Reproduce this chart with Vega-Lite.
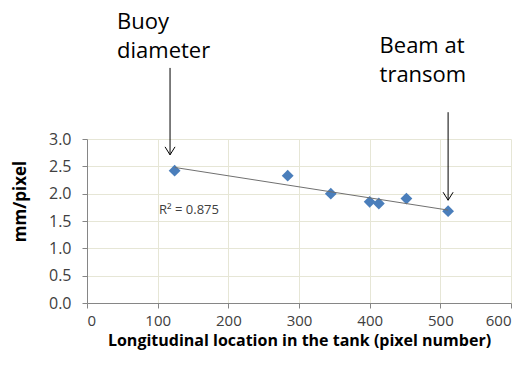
{
  "$schema": "https://vega.github.io/schema/vega-lite/v6.json",
  "width": 424,
  "height": 164,
  "autosize": "none",
  "padding": {"left": 87, "top": 139, "right": 15, "bottom": 64},
  "background": "white",
  "config": {
    "view": {"stroke": null},
    "font": "Open Sans",
    "axis": {
      "labelFont": "Open Sans",
      "labelFontSize": 15,
      "labelColor": "#404040",
      "labelOverlap": false,
      "titleFont": "Open Sans",
      "titleFontWeight": "bold",
      "titleFontSize": 16,
      "titleColor": "#000000",
      "gridColor": "#e6e6d6",
      "gridWidth": 1,
      "domainColor": "#868686",
      "tickColor": "#868686",
      "tickSize": 5
    }
  },
  "datasets": {
    "pts": [
      {"x": 124, "y": 2.42},
      {"x": 284, "y": 2.33},
      {"x": 345, "y": 2.0},
      {"x": 400, "y": 1.85},
      {"x": 413, "y": 1.82},
      {"x": 452, "y": 1.91},
      {"x": 511, "y": 1.68}
    ],
    "notes": [
      {"x": 42.5, "y": 5.01, "label": "Buoy\ndiameter"},
      {"x": 414, "y": 4.57, "label": "Beam at\ntransom"}
    ],
    "arrows": [
      {"x": 117.5, "y": 4.3, "y2": 2.71},
      {"x": 511, "y": 3.49, "y2": 1.88}
    ],
    "r2": [
      {"x": 102, "y": 1.7, "label": "R² = 0.875"}
    ]
  },
  "encoding": {
    "x": {"field": "x", "type": "quantitative", "scale": {"domain": [0, 600], "nice": false},
      "axis": {"values": [0, 100, 200, 300, 400, 500, 600], "labelOverlap": false, "title": "Longitudinal location in the tank (pixel number)", "labelPadding": 5, "titlePadding": 4}},
    "y": {"field": "y", "type": "quantitative", "scale": {"domain": [0, 3], "nice": false},
      "axis": {"values": [0, 0.5, 1, 1.5, 2, 2.5, 3], "labelOverlap": false, "format": ".1f", "title": "mm/pixel", "labelFontSize": 16, "labelPadding": 11,
        "titleFontSize": 17, "titleX": -67, "titleY": 62, "titleAngle": -90, "titleAlign": "center", "titleBaseline": "middle"}}
  },
  "layer": [
    {
      "data": {"name": "pts"},
      "mark": {"type": "point", "shape": "diamond", "filled": true, "size": 140, "color": "#4a7ebb", "opacity": 1}
    },
    {
      "data": {"name": "pts"},
      "transform": [{"regression": "y", "on": "x"}],
      "mark": {"type": "line", "color": "#707070", "strokeWidth": 1}
    },
    {
      "data": {"name": "r2"},
      "mark": {"type": "text", "align": "left", "baseline": "middle", "fontSize": 13, "color": "#404040", "font": "Open Sans"},
      "encoding": {"text": {"field": "label"}}
    },
    {
      "data": {"name": "notes"},
      "mark": {"type": "text", "align": "left", "baseline": "alphabetic", "fontSize": 22, "lineHeight": 29, "lineBreak": "\n", "color": "#000000", "font": "Open Sans"},
      "encoding": {"text": {"field": "label"}}
    },
    {
      "data": {"name": "arrows"},
      "mark": {"type": "rule", "color": "#000000", "strokeWidth": 1},
      "encoding": {"y2": {"field": "y2"}}
    },
    {
      "data": {"name": "arrows"},
      "mark": {"type": "point", "shape": "M-1,-1.6L0,0L1,-1.6", "filled": false, "size": 100, "stroke": "#000000", "strokeWidth": 1, "opacity": 1},
      "encoding": {"y": {"field": "y2", "type": "quantitative"}}
    }
  ]
}
